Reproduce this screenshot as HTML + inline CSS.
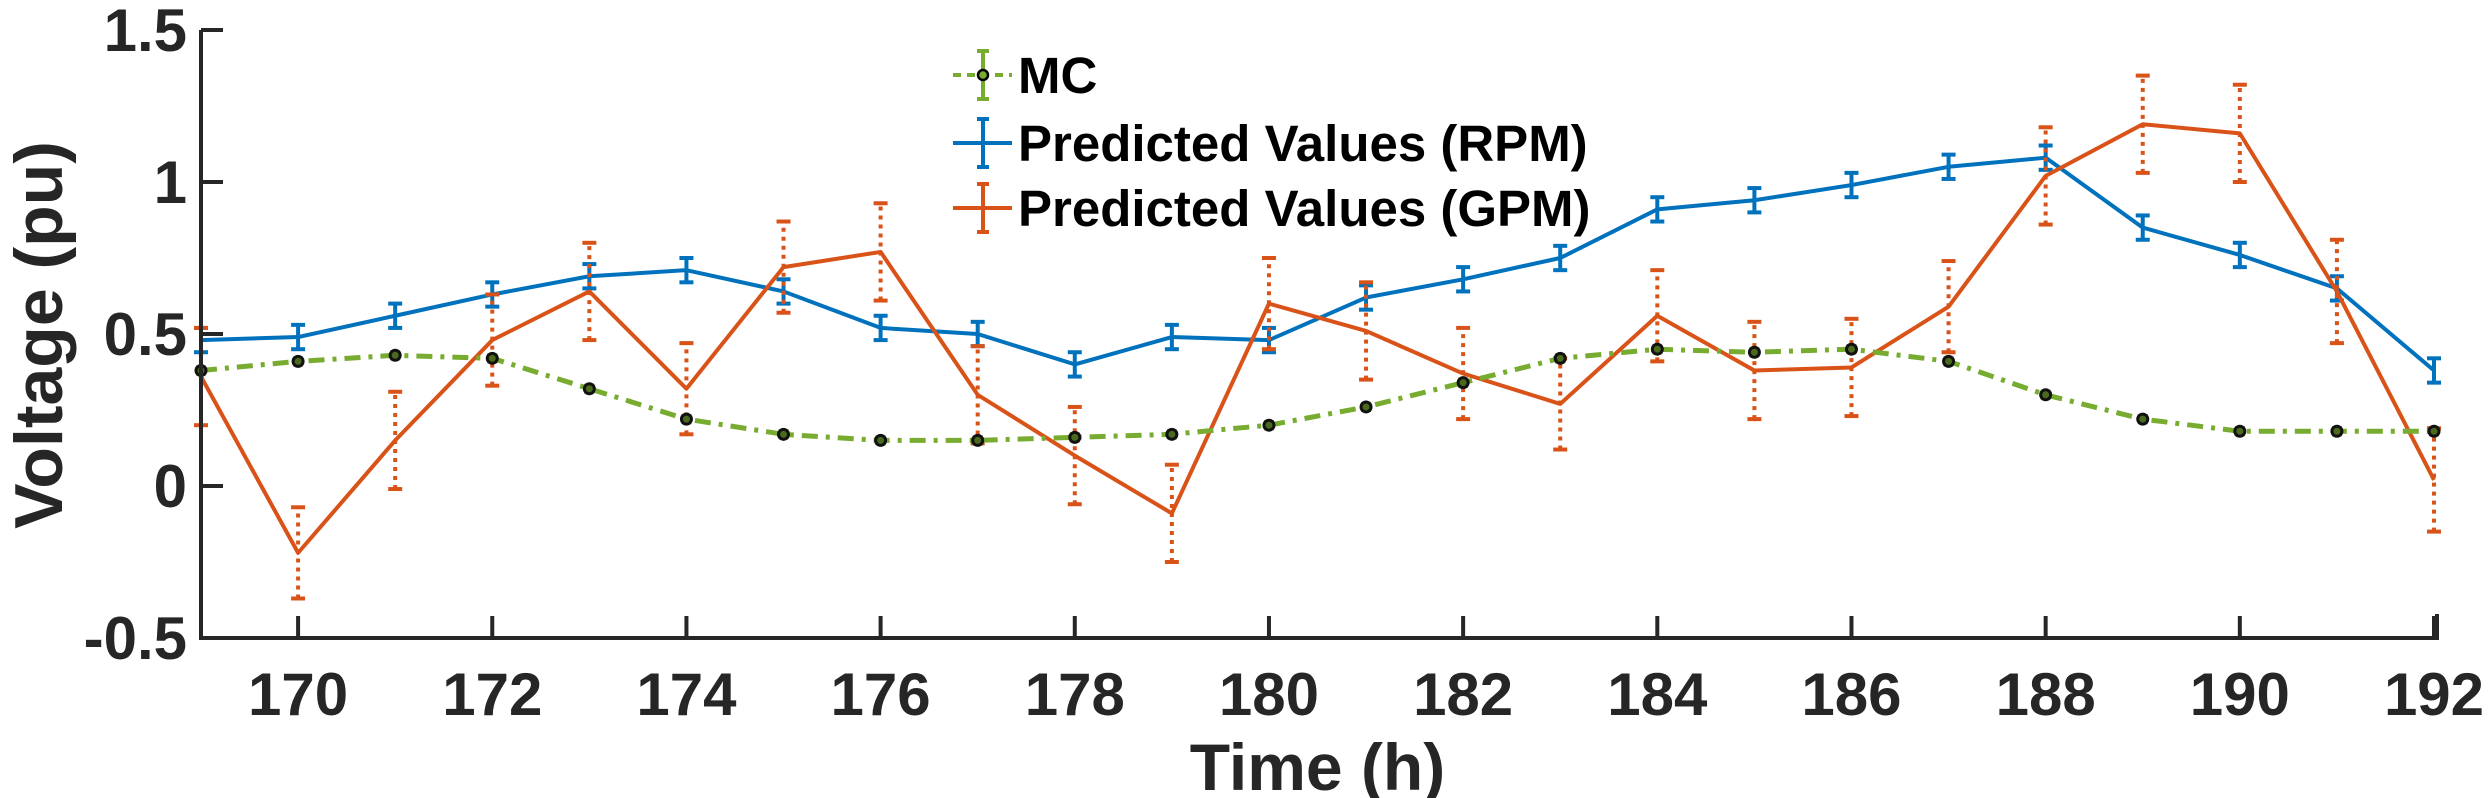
<!DOCTYPE html>
<html><head><meta charset="utf-8"><style>
html,body{margin:0;padding:0;background:#fff;}
svg{display:block;font-family:"Liberation Sans",Arial,sans-serif;font-weight:bold;}
</style></head><body>
<svg id="chart" width="2488" height="798" viewBox="0 0 2488 798">
<g id="plot"></g>
<g id="axes"></g>
<g id="legend"></g>
</svg>
<script>
const hours = [169,170,171,172,173,174,175,176,177,178,179,180,181,182,183,184,185,186,187,188,189,190,191,192];
const mcValues = [0.38,0.41,0.43,0.42,0.32,0.22,0.17,0.15,0.15,0.16,0.17,0.20,0.26,0.34,0.42,0.45,0.44,0.45,0.41,0.30,0.22,0.18,0.18,0.18];
const mcErr = [0.01,0.01,0.01,0.01,0.01,0.01,0.01,0.01,0.01,0.01,0.01,0.01,0.01,0.01,0.01,0.01,0.01,0.01,0.01,0.01,0.01,0.01,0.01,0.01];
const rpmValues = [0.48,0.49,0.56,0.63,0.69,0.71,0.64,0.52,0.50,0.40,0.49,0.48,0.62,0.68,0.75,0.91,0.94,0.99,1.05,1.08,0.85,0.76,0.65,0.38];
const rpmErr = [0.04,0.04,0.04,0.04,0.04,0.04,0.04,0.04,0.04,0.04,0.04,0.04,0.04,0.04,0.04,0.04,0.04,0.04,0.04,0.04,0.04,0.04,0.04,0.04];
const gpmValues = [0.36,-0.22,0.15,0.48,0.64,0.32,0.72,0.77,0.30,0.10,-0.09,0.60,0.51,0.37,0.27,0.56,0.38,0.39,0.59,1.02,1.19,1.16,0.64,0.02];
const gpmErr = [0.16,0.15,0.16,0.15,0.16,0.15,0.15,0.16,0.16,0.16,0.16,0.15,0.16,0.15,0.15,0.15,0.16,0.16,0.15,0.16,0.16,0.16,0.17,0.17];
const xTicks = [170,172,174,176,178,180,182,184,186,188,190,192];
const yTicks = [-0.5,0,0.5,1,1.5];
const yTickLabels = ["-0.5","0","0.5","1","1.5"];

const NS = "http://www.w3.org/2000/svg";
const X0 = 201, X1 = 2434, Y0 = 638, Y1 = 30;
const xMin = 169, xMax = 192, yMin = -0.5, yMax = 1.5;
const xs = v => X0 + (v - xMin) / (xMax - xMin) * (X1 - X0);
const ys = v => Y0 - (v - yMin) / (yMax - yMin) * (Y0 - Y1);
function mk(tag, attrs, parent){const e=document.createElementNS(NS,tag);for(const k in attrs)e.setAttribute(k,attrs[k]);parent.appendChild(e);return e;}
const plot = document.getElementById('plot'), axes = document.getElementById('axes'), legend = document.getElementById('legend');

function series(vals, errs, color, name, dash, errDash, cap, w){
  const g = mk('g', {}, plot);
  
  
  vals.forEach((v,i)=>{
    const x = xs(hours[i]);
    const eb = mk('line',{x1:x,x2:x,y1:ys(v-errs[i]),y2:ys(v+errs[i]),stroke:color,'stroke-width':4,'stroke-dasharray':errDash||'none'},g);
    
    
    [v-errs[i], v+errs[i]].forEach(e=>{
      mk('line',{x1:x-cap,x2:x+cap,y1:ys(e),y2:ys(e),stroke:color,'stroke-width':4},g);
    });
  });
  const pl = mk('polyline',{points:vals.map((v,i)=>xs(hours[i])+','+ys(v)).join(' '),fill:'none',stroke:color,'stroke-width':w,'stroke-dasharray':dash||'none','stroke-linejoin':'round'},g);
  
  
  return g;
}
series(rpmValues, rpmErr, '#0072BD', 'rpm', null, null, 7, 4);
series(gpmValues, gpmErr, '#D95319', 'gpm', null, '4 5', 7, 4);
const mg = series(mcValues, mcErr, '#77AC30', 'mc', '16 8 4 8', null, 5, 5);
mcValues.forEach((v,i)=>{
  const c = mk('circle',{cx:xs(hours[i]),cy:ys(v),r:5,fill:'#4a6b1e',stroke:'#111','stroke-width':3},mg);
  
  
});

// axes
mk('polyline',{points:`${X0},${Y1} ${X0},${Y0} ${X1+3},${Y0} ${X1+3},${Y0-24}`,fill:'none',stroke:'#262626','stroke-width':4},axes);
yTicks.forEach((t,i)=>{
  mk('line',{x1:X0,x2:X0+22,y1:ys(t),y2:ys(t),stroke:'#262626','stroke-width':4},axes);
  const tx = mk('text',{x:X0-14,y:ys(t)+21,'text-anchor':'end','font-size':60,fill:'#262626'},axes);
  tx.textContent = yTickLabels[i];
  
  
});
xTicks.forEach(t=>{
  mk('line',{x1:xs(t),x2:xs(t),y1:Y0,y2:Y0-22,stroke:'#262626','stroke-width':4},axes);
  const tx = mk('text',{x:xs(t),y:715,'text-anchor':'middle','font-size':60,fill:'#262626'},axes);
  tx.textContent = t;
  
  
});
const xt = mk('text',{x:(X0+X1)/2,y:790,'text-anchor':'middle','font-size':66,fill:'#262626'},axes);
xt.textContent = 'Time (h)';


const yt = mk('text',{x:0,y:0,'text-anchor':'middle','font-size':68,fill:'#262626',transform:'translate(62,335) rotate(-90)'},axes);
yt.textContent = 'Voltage (pu)';



// legend
const entries = [['MC','#77AC30',75,'mc'],['Predicted Values (RPM)','#0072BD',143,'rpm'],['Predicted Values (GPM)','#D95319',208,'gpm']];
entries.forEach(([label,color,y,key])=>{
  const g = mk('g',{},legend);
  
  
  mk('line',{x1:953,x2:1012,y1:y,y2:y,stroke:color,'stroke-width':4,'stroke-dasharray':key==='mc'?'8 6':'none'},g);
  mk('line',{x1:983,x2:983,y1:y-24,y2:y+24,stroke:color,'stroke-width':4},g);
  mk('line',{x1:977,x2:989,y1:y-24,y2:y-24,stroke:color,'stroke-width':4},g);
  mk('line',{x1:977,x2:989,y1:y+24,y2:y+24,stroke:color,'stroke-width':4},g);
  if(key==='mc') mk('circle',{cx:983,cy:y,r:5,fill:color,stroke:'#000','stroke-width':2.5},g);
  const t = mk('text',{x:1018,y:y+18,'font-size':51,fill:'#000'},g);
  t.textContent = label;
});
</script>
</body></html>
